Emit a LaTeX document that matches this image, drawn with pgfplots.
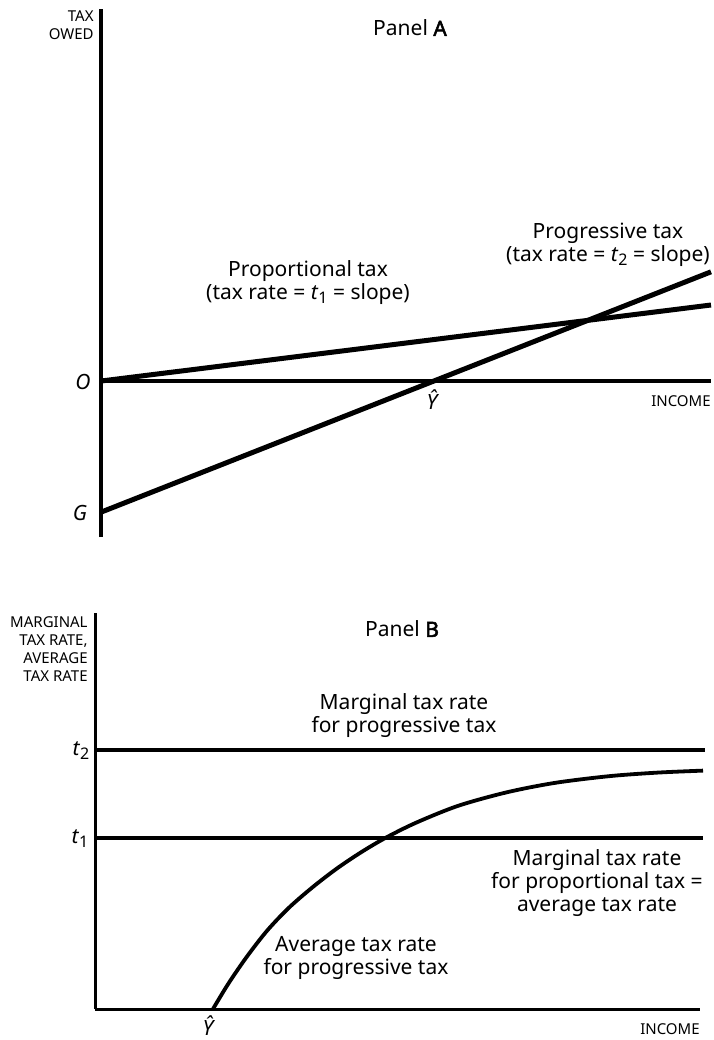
\documentclass[border=0pt]{standalone}
\usepackage{pgfplots}
\pgfplotsset{compat=1.18}
\usepackage{fontspec}
\setmainfont{Noto Sans}
\newfontfamily\fakebold{Noto Sans}[FakeBold=2.5]
\newcommand{\sub}[1]{\raisebox{-0.35ex}{\fontsize{8}{8}\selectfont #1}}
\newcommand{\lbl}{\fontsize{10.5}{11.5}\selectfont}
\newcommand{\sml}{\fontsize{7.5}{9}\selectfont}
\begin{document}
\begin{tikzpicture}
\path[use as bounding box] (0,0) rectangle (356.5pt,-520pt);
% Panel A
\begin{axis}[at={(50.5pt,-268.5pt)}, anchor=south west, scale only axis,
  width=305pt, height=264pt, xmin=0, xmax=10, ymin=-2.557, ymax=6.098,
  axis lines=middle, axis line style={line width=1.6pt,-}, ticks=none, clip=false]
\addplot[line width=2.5pt] coordinates {(0,0) (10,1.246)};
\addplot[line width=2.5pt] coordinates {(0,-2.15) (10,1.79)};
\end{axis}
% Panel B
\begin{axis}[at={(47.5pt,-504.5pt)}, anchor=south west, scale only axis,
  width=302.5pt, height=198pt, xmin=0, xmax=10, ymin=0, ymax=10,
  axis lines=left, axis line style={line width=1.5pt,-}, ticks=none, clip=false]
\addplot[line width=2.3pt] coordinates {(0,6.54) (10.08,6.54)};
\addplot[line width=2.3pt] coordinates {(0,4.32) (10.05,4.32)};
\addplot[line width=1.9pt, smooth] coordinates {(1.95,0) (2.2,0.63) (2.5,1.30) (2.84,1.97) (3.2,2.55) (3.6,3.08) (4.0,3.55) (4.4,3.96) (4.8,4.32) (5.3,4.70) (6.0,5.13) (6.8,5.47) (7.6,5.71) (8.5,5.88) (9.3,5.97) (10.05,6.02)};
\end{axis}
\begin{scope}[x=0.5pt,y=-0.5pt]
% Panel A text
\node[anchor=east, align=right, inner sep=0pt, font=\sml] at (94,25) {TAX\\OWED};
\node[font=\lbl] at (410,28) {Panel {\fakebold A}};
\node[align=center, font=\lbl, inner sep=0pt] at (608,245) {Progressive tax\\(tax rate = \textit{t}\sub{2} = slope)};
\node[align=center, font=\lbl, inner sep=0pt] at (308,283) {Proportional tax\\(tax rate = \textit{t}\sub{1} = slope)};
\node[font=\lbl\itshape] at (83,382) {O};
\node[font=\lbl\itshape] at (80,513) {G};
\node[font=\lbl\itshape] at (432,400) {Ŷ};
\node[anchor=east, inner sep=0pt, font=\sml] at (711,401) {INCOME};
% Panel B text
\node[anchor=east, align=right, inner sep=0pt, font=\sml] at (88,649) {MARGINAL\\TAX RATE,\\AVERAGE\\TAX RATE};
\node[font=\lbl] at (402,629) {Panel {\fakebold B}};
\node[align=center, font=\lbl, inner sep=0pt] at (404,716) {Marginal tax rate\\for progressive tax};
\node[font=\lbl] at (81,751) {\textit{t}\sub{2}};
\node[font=\lbl] at (80,839) {\textit{t}\sub{1}};
\node[align=center, font=\lbl, inner sep=0pt] at (597,883) {Marginal tax rate\\for proportional tax =\\average tax rate};
\node[align=center, font=\lbl, inner sep=0pt] at (356,958) {Average tax rate\\for progressive tax};
\node[font=\lbl\itshape] at (208,1026) {Ŷ};
\node[anchor=east, inner sep=0pt, font=\sml] at (700,1029) {INCOME};
\end{scope}
\end{tikzpicture}
\end{document}
